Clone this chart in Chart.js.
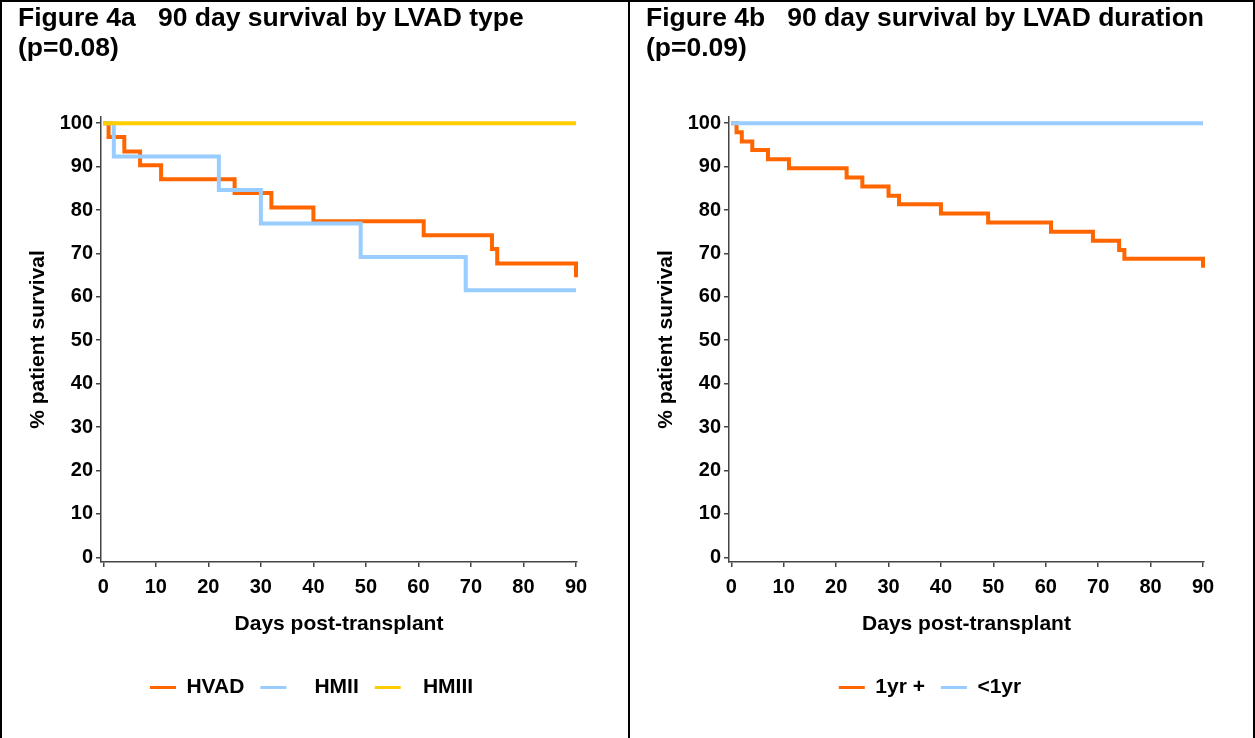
<!DOCTYPE html>
<html>
<head>
<meta charset="utf-8">
<script src="https://cdn.jsdelivr.net/npm/chart.js@4.4.1/dist/chart.umd.min.js"></script>
<style>
  body { margin: 0; background: #fff; }
  #wrap { position: relative; width: 1255px; height: 738px; overflow: hidden; }
  canvas { position: absolute; top: 0; }
  #c1 { left: 0; }
  #c2 { left: 630px; }
  .frame { position: absolute; top: 0; height: 742px; border: 2px solid #000; box-sizing: border-box; pointer-events: none; }
</style>
</head>
<body>
<div id="wrap">
  <canvas id="c1" width="628" height="738"></canvas>
  <canvas id="c2" width="625" height="738"></canvas>
  <div class="frame" style="left:0; width:630px;"></div>
  <div class="frame" style="left:628px; width:627px;"></div>
</div>
<script>
// tick labels
const xTicks = [0, 10, 20, 30, 40, 50, 60, 70, 80, 90];
const yTicks = [0, 10, 20, 30, 40, 50, 60, 70, 80, 90, 100];

// figure 4a - by LVAD type (days of each drop, survival after the drop)
const hvadDays = [0, 1, 4, 7, 11, 25, 32, 40, 61, 74, 75, 90];
const hvadSurv = [100, 96.8, 93.5, 90.3, 87.1, 83.9, 80.6, 77.4, 74.2, 71.0, 67.7, 64.5];
const hmiiDays = [0, 2, 22, 30, 49, 69, 90];
const hmiiSurv = [100, 92.3, 84.6, 76.9, 69.2, 61.5, 61.5];
const hmiiiDays = [0, 90];
const hmiiiSurv = [100, 100];

// figure 4b - by LVAD duration
const longDays = [0, 1, 2, 4, 7, 11, 22, 25, 30, 32, 40, 49, 61, 69, 74, 75, 90];
const longSurv = [100, 97.9, 95.8, 93.8, 91.7, 89.6, 87.5, 85.4, 83.3, 81.3, 79.2, 77.1, 75.0, 72.9, 70.8, 68.8, 66.7];
const shortDays = [0, 90];
const shortSurv = [100, 100];

const ORANGE = "#ff6600";
const BLUE = "#99ccff";
const YELLOW = "#ffcc00";
const FONT = "'Liberation Sans', Arial, sans-serif";

const pts = (days, surv) => days.map((d, i) => ({ x: d, y: surv[i] }));

const line = (label, days, surv, color, order) => ({
  label: label,
  data: pts(days, surv),
  borderColor: color,
  backgroundColor: color,
  borderWidth: 4,
  stepped: true,
  pointRadius: 0,
  fill: false,
  order: order,
  clip: 6,
});

// nudge the legend sideways, it is not centred on the canvas in the original
const legendShift = {
  id: "legendShift",
  afterLayout: (chart, args, opts) => {
    chart.legend.left += opts.dx;
    chart.legend.right += opts.dx;
  },
};

const makeOptions = (title, padLeft, legendDx) => ({
  responsive: false,
  animation: false,
  events: [],
  layout: { padding: { left: padLeft, right: 51, top: 0, bottom: 30 } },
  scales: {
    x: {
      type: "linear",
      min: -0.44,
      max: 90.19,
      afterBuildTicks: (s) => { s.ticks = xTicks.map((v) => ({ value: v })); },
      afterFit: (s) => { s.height = 99; },
      ticks: { font: { family: FONT, size: 20, weight: "bold" }, color: "#000", padding: 8, maxRotation: 0, autoSkip: false },
      grid: { drawOnChartArea: false, drawTicks: true, tickLength: 5, color: "#444", lineWidth: 1.5 },
      border: { display: true, color: "#444", width: 1.5 },
      title: {
        display: true,
        text: "Days post-transplant",
        color: "#000",
        font: { family: FONT, size: 21, weight: "bold" },
        padding: { top: 10, bottom: 24 },
      },
    },
    y: {
      type: "linear",
      min: -1.08,
      max: 101.45,
      afterBuildTicks: (s) => { s.ticks = yTicks.map((v) => ({ value: v })); },
      afterFit: (s) => { s.width = 83; },
      ticks: { font: { family: FONT, size: 20, weight: "bold" }, color: "#000", padding: 3, autoSkip: false },
      grid: { drawOnChartArea: false, drawTicks: true, tickLength: 5, color: "#444", lineWidth: 1.5 },
      border: { display: true, color: "#444", width: 1.5 },
      title: {
        display: true,
        text: "% patient survival",
        color: "#000",
        font: { family: FONT, size: 21, weight: "bold" },
        padding: { top: 8, bottom: 8 },
      },
    },
  },
  plugins: {
    title: {
      display: true,
      text: title,
      align: "start",
      color: "#000",
      font: { family: FONT, size: 26.5, weight: "bold", lineHeight: 1.13 },
      padding: { top: 4, bottom: 53 },
    },
    legend: {
      display: true,
      position: "bottom",
      labels: {
        boxWidth: 26,
        boxHeight: 3,
        padding: 16,
        color: "#000",
        font: { family: FONT, size: 21, weight: "bold" },
        sort: (a, b) => a.datasetIndex - b.datasetIndex,
        generateLabels: (chart) =>
          Chart.defaults.plugins.legend.labels.generateLabels(chart).map((l) => ({ ...l, lineWidth: 0 })),
      },
    },
    legendShift: { dx: legendDx },
    tooltip: { enabled: false },
  },
});

new Chart(document.getElementById("c1"), {
  type: "line",
  data: {
    datasets: [
      line("HVAD", hvadDays, hvadSurv, ORANGE, 3),
      line("   HMII", hmiiDays, hmiiSurv, BLUE, 2),
      line("  HMIII", hmiiiDays, hmiiiSurv, YELLOW, 1),
    ],
  },
  options: makeOptions(["Figure 4a   90 day survival by LVAD type", "(p=0.08)"], 18, 14),
  plugins: [legendShift],
});

new Chart(document.getElementById("c2"), {
  type: "line",
  data: {
    datasets: [
      line("1yr +", longDays, longSurv, ORANGE, 2),
      line("<1yr", shortDays, shortSurv, BLUE, 1),
    ],
  },
  options: makeOptions(["Figure 4b   90 day survival by LVAD duration", "(p=0.09)"], 16, 5),
  plugins: [legendShift],
});
</script>
</body>
</html>
